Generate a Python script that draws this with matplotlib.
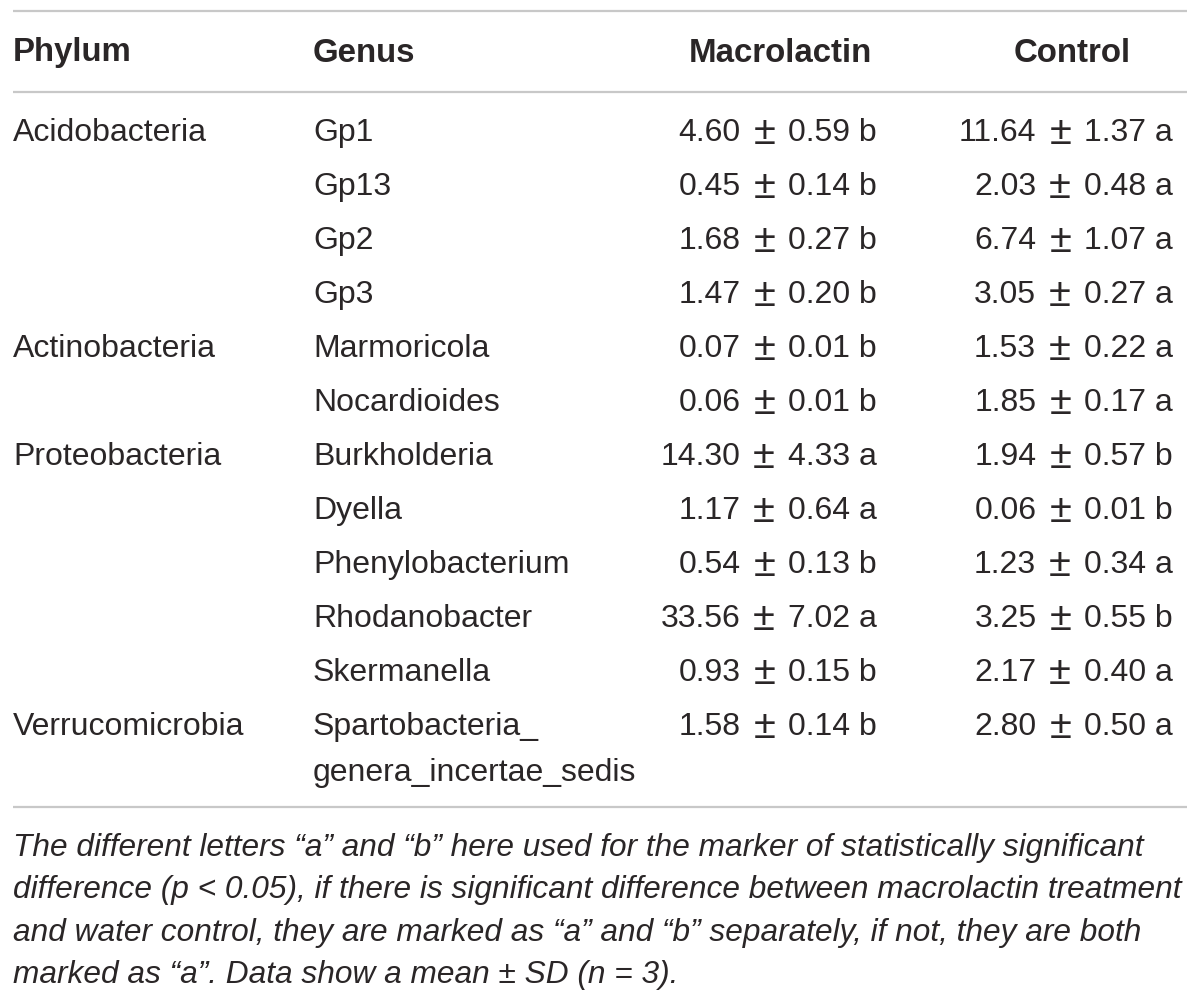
import matplotlib
matplotlib.use("Agg")
import matplotlib.pyplot as plt

# table content
phylum = ["Acidobacteria", "", "", "", "Actinobacteria", "", "Proteobacteria",
          "", "", "", "", "Verrucomicrobia"]
genus = ["Gp1", "Gp13", "Gp2", "Gp3", "Marmoricola", "Nocardioides", "Burkholderia",
         "Dyella", "Phenylobacterium", "Rhodanobacter", "Skermanella",
         "Spartobacteria_\ngenera_incertae_sedis"]
mac_mean = [4.60, 0.45, 1.68, 1.47, 0.07, 0.06, 14.30, 1.17, 0.54, 33.56, 0.93, 1.58]
mac_sd = [0.59, 0.14, 0.27, 0.20, 0.01, 0.01, 4.33, 0.64, 0.13, 7.02, 0.15, 0.14]
mac_letter = ["b", "b", "b", "b", "b", "b", "a", "a", "b", "a", "b", "b"]
ctrl_mean = [11.64, 2.03, 6.74, 3.05, 1.53, 1.85, 1.94, 0.06, 1.23, 3.25, 2.17, 2.80]
ctrl_sd = [1.37, 0.48, 1.07, 0.27, 0.22, 0.17, 0.57, 0.01, 0.34, 0.55, 0.40, 0.50]
ctrl_letter = ["a", "a", "a", "a", "a", "a", "b", "b", "a", "b", "a", "a"]
headers = ["Phylum", "Genus", "Macrolactin", "Control"]
footnote = ["The different letters \u201ca\u201d and \u201cb\u201d here used for the marker of statistically significant",
            "difference (p < 0.05), if there is significant difference between macrolactin treatment",
            "and water control, they are marked as \u201ca\u201d and \u201cb\u201d separately, if not, they are both",
            "marked as \u201ca\u201d. Data show a mean \u00b1 SD (n = 3)."]

plt.rcParams['font.family'] = ['Liberation Sans', 'DejaVu Sans']
txt_col = "#2a2627"
line_col = "#c8c8c8"
fs = 23

fig = plt.figure(figsize=(12, 10.04), dpi=100)
ax = fig.add_axes([0, 0, 1, 1])
ax.set_xlim(0, 1200)
ax.set_ylim(1004, 0)
ax.axis("off")
renderer = fig.canvas.get_renderer()

# rules
for yy in [12, 93, 808]:
    ax.plot([13, 1187], [yy, yy], color=line_col, lw=1.6, solid_capstyle="butt")

# header
hfs = 23.8
ax.text(13, 53, headers[0], fontsize=hfs, fontweight="bold", color=txt_col, va="center")
ax.text(313, 53, headers[1], fontsize=hfs, fontweight="bold", color=txt_col, va="center")
ax.text(872, 53, headers[2], fontsize=hfs, fontweight="bold", color=txt_col, va="center", ha="right")
ax.text(1131, 53, headers[3], fontsize=hfs, fontweight="bold", color=txt_col, va="center", ha="right")


def value_cell(x_right, y, mean, sd, letter):
    # right part first, then the plus-minus sign, then the mean
    t = ax.text(x_right, y, f"{sd:.2f} {letter}", fontsize=fs, color=txt_col, va="center", ha="right")
    x = x_right - t.get_window_extent(renderer).width - 13
    t = ax.text(x, y, "\u00b1", fontsize=fs * 1.25, color=txt_col, va="center", ha="right")
    x = x - t.get_window_extent(renderer).width - 13
    ax.text(x, y, f"{mean:.2f}", fontsize=fs, color=txt_col, va="center", ha="right")


row_y0 = 133
row_h = 54
for i in range(len(genus)):
    y = row_y0 + i * row_h
    ax.text(13, y, phylum[i], fontsize=fs, color=txt_col, va="center")
    g = genus[i].split("\n")
    for k, part in enumerate(g):
        ax.text(313, y + k * 46, part, fontsize=fs, color=txt_col, va="center")
    value_cell(877, y, mac_mean[i], mac_sd[i], mac_letter[i])
    value_cell(1173, y, ctrl_mean[i], ctrl_sd[i], ctrl_letter[i])

# footnote
for j, line in enumerate(footnote):
    ax.text(13, 848 + j * 42.5, line, fontsize=22.8, style="italic", color=txt_col, va="center")

fig.savefig("out.png", dpi=100)
